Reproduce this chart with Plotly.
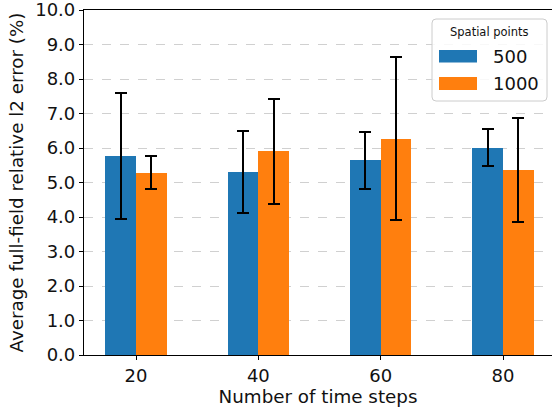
import numpy as np
import plotly.graph_objects as go

steps = [20, 40, 60, 80]
series_names = ["500", "1000"]
mean_500 = [5.76, 5.31, 5.64, 6.01]
err_500 = [1.82, 1.18, 0.83, 0.54]
mean_1000 = [5.28, 5.90, 6.27, 5.36]
err_1000 = [0.48, 1.53, 2.36, 1.50]
colors = ["#1f77b4", "#ff7f0e"]
y_ticks = [0, 1, 2, 3, 4, 5, 6, 7, 8, 9, 10]

FONT = "DejaVu Sans"
W, H = 552, 408
L, T, B, R = 84, 10, 53, 0
pw, ph = W - L - R, H - T - B

x = np.array(steps, dtype=float)
bw = 5.0
fig = go.Figure()
for off, m, e, c, n in [(-bw / 2, mean_500, err_500, colors[0], series_names[0]),
                        (bw / 2, mean_1000, err_1000, colors[1], series_names[1])]:
    fig.add_trace(go.Bar(
        x=x + off, y=m, width=bw, name=n, marker_color=c, marker_line_width=0,
        error_y=dict(type="data", array=e, color="black", thickness=2, width=6),
        showlegend=False,
    ))

fig.update_layout(
    width=W, height=H, margin=dict(l=L, r=R, t=T, b=B),
    paper_bgcolor="white", plot_bgcolor="white",
    font=dict(family=FONT, color="#111111", size=18),
    bargap=0,
)
fig.update_xaxes(
    range=[11.5, 88.0], tickvals=steps, ticktext=[str(s) for s in steps],
    showline=True, linecolor="black", linewidth=1.2, mirror=True,
    ticks="outside", ticklen=4, tickcolor="black", showgrid=False, zeroline=False,
    title=dict(text="Number of time steps", font=dict(size=18.3), standoff=3),
    tickfont=dict(size=18), ticklabeloverflow="allow",
)
fig.update_yaxes(
    range=[0, 10], tickvals=y_ticks, tickformat=".1f",
    showline=True, linecolor="black", linewidth=1.2,
    ticks="outside", ticklen=4, tickcolor="black",
    showgrid=True, gridcolor="#d0d0d0", griddash="dash", gridwidth=1, zeroline=False,
    title=dict(text="Average full-field relative l2 error (%)", font=dict(size=18.3), standoff=6),
    tickfont=dict(size=18), ticklabeloverflow="allow",
)

# manual legend (matplotlib style)
def px2paper(px, py):
    return (px - L) / pw, (H - B - py) / ph

x0, y0 = px2paper(432, 101)
x1, y1 = px2paper(547, 19)
rx, ry = 4 / pw, 4 / ph
path = (f"M {x0+rx},{y0} L {x1-rx},{y0} Q {x1},{y0} {x1},{y0+ry} L {x1},{y1-ry} Q {x1},{y1} {x1-rx},{y1} "
        f"L {x0+rx},{y1} Q {x0},{y1} {x0},{y1-ry} L {x0},{y0+ry} Q {x0},{y0} {x0+rx},{y0} Z")
fig.add_shape(type="path", path=path, xref="paper", yref="paper",
              line=dict(color="#cccccc", width=1), fillcolor="rgba(255,255,255,0.85)", layer="above")
tx, ty = px2paper(489, 32)
fig.add_annotation(x=tx, y=ty, xref="paper", yref="paper", text="Spatial points",
                   showarrow=False, font=dict(size=11.5, family=FONT, color="#111111"),
                   xanchor="center", yanchor="middle")
for (py0, py1), name, c in zip([(50, 62.5), (77, 90)], series_names, colors):
    a0, b0 = px2paper(439, py1)
    a1, b1 = px2paper(477, py0)
    fig.add_shape(type="rect", xref="paper", yref="paper", x0=a0, x1=a1, y0=b0, y1=b1,
                  fillcolor=c, line=dict(width=0), layer="above")
    lx, ly = px2paper(491, (py0 + py1) / 2)
    fig.add_annotation(x=lx, y=ly, xref="paper", yref="paper", text=name, showarrow=False,
                       font=dict(size=18, family=FONT, color="#111111"),
                       xanchor="left", yanchor="middle")

fig.write_html("out.html")
